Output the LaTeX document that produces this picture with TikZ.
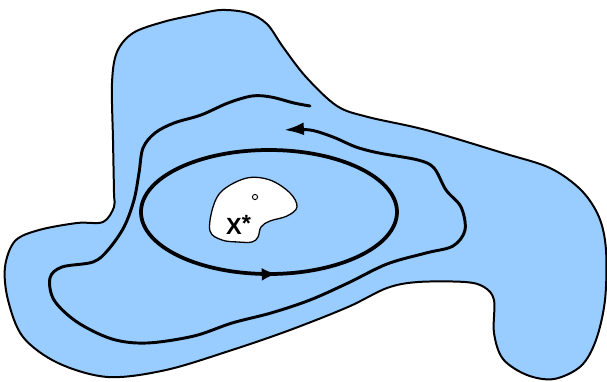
\documentclass[tikz,border=0pt]{standalone}
\usepackage{fontspec}
\setsansfont{Liberation Sans}
\usepackage{tikz}
\usetikzlibrary{arrows.meta, decorations.markings}

\definecolor{basin}{RGB}{153,204,255}

\begin{document}
\begin{tikzpicture}[
    x=0.03cm, y=-0.03cm,
    region/.style={
        draw=black,
        fill=basin,
        line width=1.7pt,
        line join=round
    },
    hole/.style={
        draw=black,
        fill=white,
        line width=1.1pt
    },
    cycle/.style={
        draw=black,
        line width=3.2pt
    },
    orbit/.style={
        draw=black,
        line width=2.5pt,
        line cap=round
    },
    label/.style={
        font=\sffamily\bfseries\fontsize{20}{24}\selectfont,
        inner sep=0pt
    }
]
\useasboundingbox (0,0) rectangle (607,381);

% basin of attraction
\draw[region] plot[smooth cycle, tension=0.55] coordinates {
    (103,222) (114,207) (114,193) (113,140) (112,83) (117,52) (133,33)
    (163,22) (194,15) (221,10) (248,13) (267,24) (283,47) (306,77)
    (337,106) (368,117) (426,130) (503,153) (550,168) (581,190)
    (599,217) (606,250) (605,300) (596,340) (581,366) (554,379)
    (527,375) (503,359) (494,333) (494,300) (484,287) (465,282)
    (418,282) (387,288) (348,307) (290,330) (232,350) (166,370)
    (108,377) (58,363) (23,337) (8,300) (5,267) (15,241) (39,230)
    (77,223)
};

% equilibrium set
\draw[hole] plot[smooth cycle, tension=0.6] coordinates {
    (210,231) (213,207) (223,190) (247,178) (270,180) (290,193)
    (297,207) (287,216) (270,221) (261,227) (258,237) (252,242)
    (238,242) (222,240)
};
\draw[line width=0.8pt, fill=white] (255,197) circle [radius=2.6];
\node[label, anchor=base west] (xstar) at (226,234) {X\raisebox{2pt}{*}};

% limit cycle
\draw[cycle, postaction={decorate}, decoration={markings,
        mark=at position 0.237 with {\arrowreversed{Latex[length=13pt, width=11pt]}}}]
    (269,212) ellipse [x radius=128, y radius=62];

% trajectory
\draw[orbit, -{Latex[length=17pt, width=11pt]}] plot[smooth, tension=0.55] coordinates {
    (310,106) (294,103) (271,97) (252,96) (228,103) (201,115) (174,123)
    (155,133) (143,148) (139,173) (134,200) (124,227) (108,250)
    (93,262) (62,267) (50,278) (54,300) (77,322) (112,339) (147,343)
    (194,336) (232,323) (271,313) (310,300) (348,283) (387,264)
    (426,253) (453,246) (465,230) (461,207) (446,190) (434,168)
    (418,160) (379,153) (356,147) (333,137) (310,130) (284,130)
};
\end{tikzpicture}
\end{document}
